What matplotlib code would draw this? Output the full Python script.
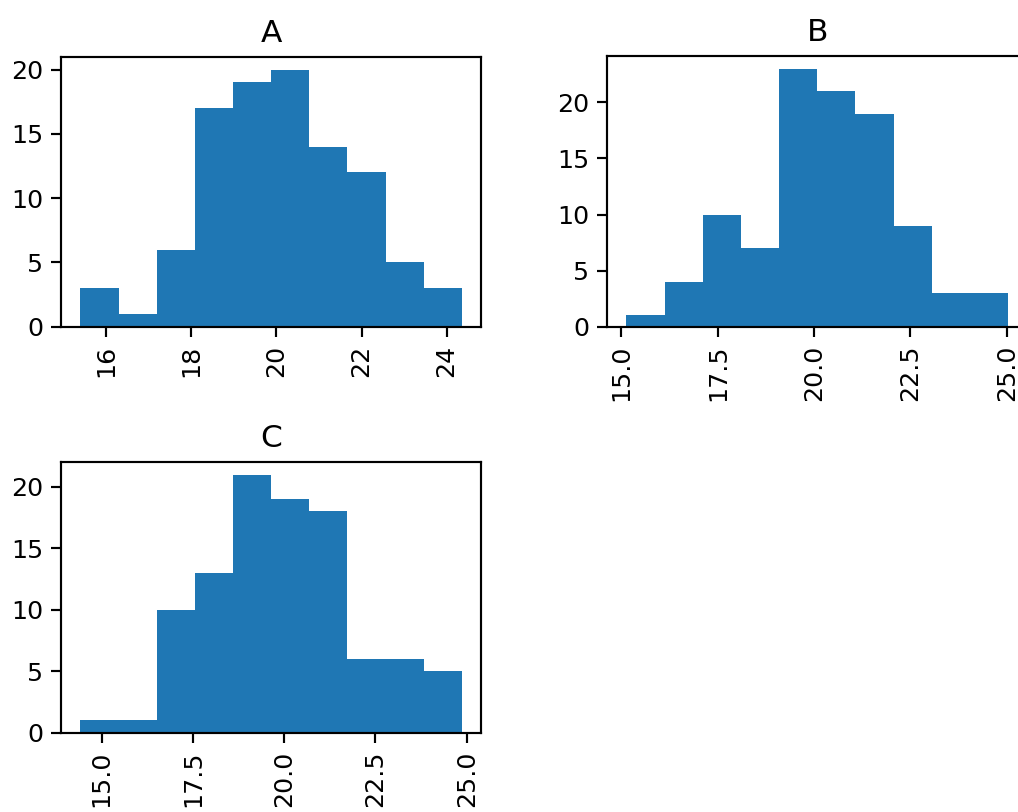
import numpy as np
import matplotlib
matplotlib.use("Agg")
import matplotlib.pyplot as plt

# Histogram data (10 bins per column)
columns = ["A", "B", "C"]
bin_min = {"A": 15.39, "B": 15.13, "C": 14.42}
bin_max = {"A": 24.36, "B": 25.03, "C": 24.87}
counts_A = [3, 1, 6, 17, 19, 20, 14, 12, 5, 3]
counts_B = [1, 4, 10, 7, 23, 21, 19, 9, 3, 3]
counts_C = [1, 1, 10, 13, 21, 19, 18, 6, 6, 5]
counts = {"A": counts_A, "B": counts_B, "C": counts_C}

DPI = 173
fig = plt.figure(figsize=(1018 / DPI, 812 / DPI), dpi=DPI)

positions = {
    "A": [0.0602, 0.5977, 0.4123, 0.3325],
    "B": [0.5966, 0.5977, 0.4123, 0.3335],
    "C": [0.0602, 0.0977, 0.4123, 0.3337],
}

for col in columns:
    ax = fig.add_axes(positions[col])
    edges = np.linspace(bin_min[col], bin_max[col], len(counts[col]) + 1)
    centers = (edges[:-1] + edges[1:]) / 2
    ax.hist(centers, bins=edges, weights=counts[col], color="#1f77b4")
    ax.set_title(col, fontsize=13)
    ax.tick_params(axis="both", labelsize=10.5, length=4, width=0.9)
    ax.tick_params(axis="x", labelrotation=90)
    for s in ax.spines.values():
        s.set_linewidth(0.9)
    ax.grid(False)

fig.savefig("out.png", dpi=DPI)
